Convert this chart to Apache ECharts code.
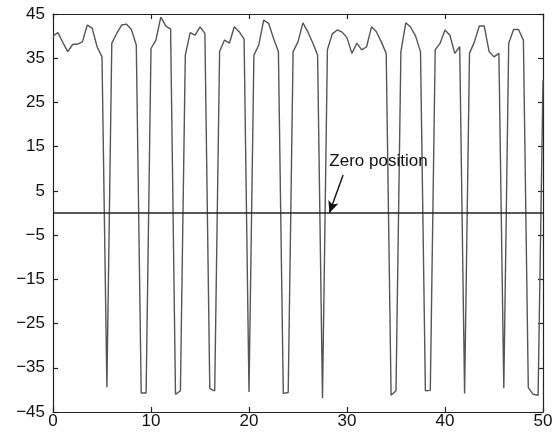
<!DOCTYPE html>
<html><head><meta charset="utf-8">
<script src="https://cdn.jsdelivr.net/npm/echarts@6/dist/echarts.min.js"></script>
<style>html,body{margin:0;padding:0;background:#fff}#c{width:559px;height:433px}</style>
</head><body><div id="c"></div>
<script>
const xs = [0,0.5,1,1.5,2,2.5,3,3.5,4,4.5,5,5.5,6,6.5,7,7.5,8,8.5,9,9.5,10,10.5,11,11.5,12,12.5,13,13.5,14,14.5,15,15.5,16,16.5,17,17.5,18,18.5,19,19.5,20,20.5,21,21.5,22,22.5,23,23.5,24,24.5,25,25.5,26,26.5,27,27.5,28,28.5,29,29.5,30,30.5,31,31.5,32,32.5,33,33.5,34,34.5,35,35.5,36,36.5,37,37.5,38,38.5,39,39.5,40,40.5,41,41.5,42,42.5,43,43.5,44,44.5,45,45.5,46,46.5,47,47.5,48,48.5,49,49.5,50];
const ys = [40.0,40.8,38.6,36.5,38.1,38.2,38.7,42.5,41.8,37.6,35.3,-39.4,38.4,40.6,42.5,42.7,41.5,38.0,-40.7,-40.7,37.2,39.1,44.3,42.3,41.6,-41.0,-40.2,35.7,40.8,40.2,42.1,40.6,-39.7,-40.2,36.5,39.1,38.4,42.1,41.0,39.3,-40.5,35.7,38.0,43.6,42.9,39.5,36.5,-40.8,-40.6,36.5,38.7,43.0,41.0,38.5,35.7,-41.9,36.9,40.5,41.4,40.9,39.6,36.1,38.4,36.9,37.6,42.1,41.0,38.7,36.1,-41.2,-40.2,36.5,43.0,42.0,40.0,36.5,-40.2,-40.1,36.9,38.4,41.4,40.2,36.1,37.6,-40.8,36.1,38.7,42.3,42.3,36.5,35.3,36.1,-39.6,38.4,41.5,41.5,39.1,-39.5,-41.0,-41.2,30.0];
const xTicks = [0,10,20,30,40,50];
const yTicks = [-45,-35,-25,-15,-5,5,15,25,35,45];
const zeroLine = [[0,0],[50,0]];
const annotationText = 'Zero position';
const arrowFrom = [29.6, 8.6];
const arrowTo = [28.2, 0];
const textAt = [28.2, 11.8];

const chart = echarts.init(document.getElementById('c'));
const fmt = v => String(v).replace('-', '\u2212');
const FONT = 'Liberation Sans, Arial, sans-serif';
const lbl = {color:'#111', fontSize:17, fontFamily:FONT};
const axLine = {show:true, onZero:false, lineStyle:{color:'#222', width:1.2}};
const tick = {show:true, inside:true, length:5, lineStyle:{color:'#222', width:1.2}};
chart.setOption({
  animation:false,
  grid:{left:53, right:16, top:14, bottom:21, containLabel:false},
  xAxis:[
    {type:'value', min:0, max:50, interval:10, position:'bottom', axisLine:axLine, axisTick:tick, splitLine:{show:false},
     axisLabel:Object.assign({margin:1, formatter:fmt}, lbl)},
    {type:'value', min:0, max:50, interval:10, position:'top', axisLine:axLine, axisTick:tick, splitLine:{show:false}, axisLabel:{show:false}}
  ],
  yAxis:[
    {type:'value', min:-45, max:45, interval:10, position:'left', axisLine:axLine, axisTick:tick, splitLine:{show:false},
     axisLabel:Object.assign({margin:8, formatter:fmt}, lbl)},
    {type:'value', min:-45, max:45, interval:10, position:'right', axisLine:axLine, axisTick:tick, splitLine:{show:false}, axisLabel:{show:false}}
  ],
  series:[
    {type:'line', data:xs.map((x,i)=>[x, ys[i]]), showSymbol:false, symbol:'none',
     lineStyle:{color:'#555', width:1.4}},
    {type:'line', data:zeroLine, showSymbol:false, symbol:'none', lineStyle:{color:'#222', width:1.5},
     markLine:{silent:true, symbol:['none','arrow'], symbolSize:[8,12], animation:false,
       lineStyle:{color:'#111', width:1.4, type:'solid'}, label:{show:false},
       data:[[{coord:arrowFrom},{coord:arrowTo}]]},
     markPoint:{silent:true, symbol:'circle', symbolSize:0,
       label:{show:true, position:'right', distance:0, formatter:annotationText, color:'#111', fontSize:17, fontFamily:FONT},
       data:[{coord:textAt}]}
    }
  ]
});
</script></body></html>
